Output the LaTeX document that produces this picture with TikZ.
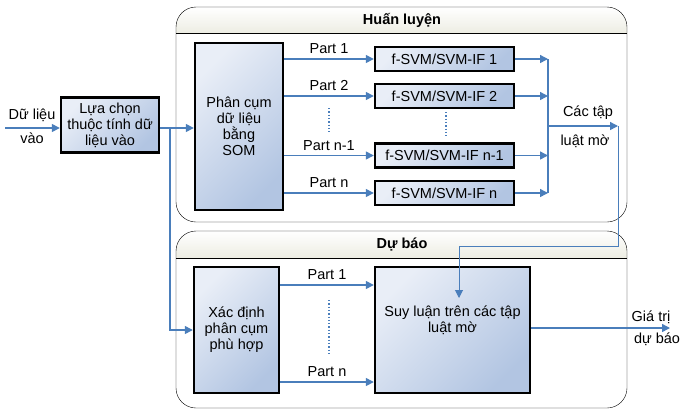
\documentclass[tikz,border=0pt]{standalone}
\usepackage{fontspec}
\setmainfont{Liberation Sans}
\usetikzlibrary{arrows.meta}
\usetikzlibrary{shadows}
\definecolor{flowblue}{HTML}{4A7EBB}
\definecolor{boxlight}{HTML}{E9EEF7}
\definecolor{boxdark}{HTML}{B2C5E2}
\definecolor{headfill}{HTML}{EDEDE3}

\begin{document}
\begin{tikzpicture}[x=1pt,y=-1pt,font=\fontsize{14.5}{16}\selectfont,
B/.style={draw=black, line width=2.4pt, top color=boxlight, bottom color=boxdark, shading angle=45,
          align=center, inner sep=0pt, drop shadow={shadow xshift=1pt, shadow yshift=-1pt, opacity=0.25}},
lF/.style={flowblue, line width=1.4pt, -{Triangle[length=8pt,width=8pt]}},
lf/.style={flowblue, line width=1.4pt},
lT/.style={flowblue, line width=1pt, -{Triangle[length=8pt,width=8pt]}},
lD/.style={flowblue, line width=1.3pt, dotted},
P/.style={midway, above=1pt, text=black}]
%
\useasboundingbox (0,0) rectangle (682,410);

% training stage
\begin{scope}
\clip[rounded corners=20pt] (176,7) rectangle (627,222);
\shade[top color=white, bottom color=headfill] (176,7) rectangle (627,33);
\end{scope}
\draw (176,33) -- (627,33);
\draw[rounded corners=20pt] (176,7) rectangle (627,222);
\node[font=\fontsize{14.5}{16}\selectfont\bfseries] (trainTitle) at (402,20) {Huấn luyện};

% forecasting stage
\begin{scope}
\clip[rounded corners=20pt] (176,231) rectangle (627,408);
\shade[top color=white, bottom color=headfill] (176,231) rectangle (627,258);
\end{scope}
\draw (176,258) -- (627,258);
\draw[rounded corners=20pt] (176,231) rectangle (627,408);
\node[font=\fontsize{14.5}{16}\selectfont\bfseries] (predTitle) at (402,244) {Dự báo};

% boxes
\node[B, minimum width=98pt, minimum height=55pt] at (110,125) (sel) {Lựa chọn\\thuộc tính dữ\\liệu vào};
\node[B, minimum width=88pt, minimum height=167pt] at (239,126.5) (som) {Phân cụm\\dữ liệu\\bằng\\SOM};

\node[B, minimum width=139pt, minimum height=24pt] at (444.5,59) (svm1) {f-SVM/SVM-IF 1};
\node[B, minimum width=139pt, minimum height=24pt] at (444.5,96) (svm2) {f-SVM/SVM-IF 2};
\node[B, minimum width=139pt, minimum height=24pt] at (444.5,155.5) (svm3) {f-SVM/SVM-IF n-1};
\node[B, minimum width=139pt, minimum height=24pt] at (444.5,193) (svm4) {f-SVM/SVM-IF n};

\node[B, minimum width=85pt, minimum height=126pt] at (236.5,330) (xd) {Xác định\\phân cụm\\phù hợp};
\node[B, minimum width=155pt, minimum height=126pt] at (452.5,330) (sl) {};
\node[align=center] at ([yshift=10pt]sl.center) (slText) {Suy luận trên các tập\\luật mờ};

% free ends and bends
\coordinate (inTail) at (5,128);
\coordinate (split) at (170,128);
\coordinate (bus) at (548,126);
\coordinate (rules) at (618,126);
\coordinate (turn) at (459,246);
\coordinate (ruleIn) at (459,298);
\coordinate (outTip) at (670,328);

% input
\node (inA) at (32,115) {Dữ liệu};
\node (inB) at (32,138) {vào};
\draw[lF] (inTail) -- (sel.west |- inTail);
\draw[lF] (sel.east |- inTail) -- (som.west |- inTail);
\draw[lF] (split) |- (xd.west);

% partitions to the learners
\foreach \i/\lbl in {1/Part 1, 2/Part 2, 3/Part n-1, 4/Part n}{
  \draw[lF] (som.east |- svm\i) -- (svm\i.west) node[P] {\lbl};
  \draw[lF] (svm\i.east) -- (svm\i.east -| bus);
}
\draw[lD] (329,108) -- (329,133);
\draw[lD] (446,112) -- (446,137);

% collected rule sets
\draw[lf] (bus |- svm1) -- (bus |- svm4);
\draw[lF] (bus) -- (rules);
\node (rulesA) at (588,113) {Các tập};
\node (rulesB) at (585,141) {luật mờ};
\draw[lT] (rules) |- (turn) -- (ruleIn);

% forecasting flow
\draw[lF] ([yshift=45pt]xd.east) -- ([yshift=45pt]xd.east -| sl.west) node[P] {Part 1};
\draw[lF] ([yshift=-52pt]xd.east) -- ([yshift=-52pt]xd.east -| sl.west) node[P] {Part n};
\draw[lD] (329,300) -- (329,355);

\draw[lF] ([yshift=2pt]sl.east) -- ([yshift=2pt]sl.east -| outTip);
\node (outA) at (651,317) {Giá trị};
\node (outB) at (657,339) {dự báo};

\end{tikzpicture}
\end{document}
